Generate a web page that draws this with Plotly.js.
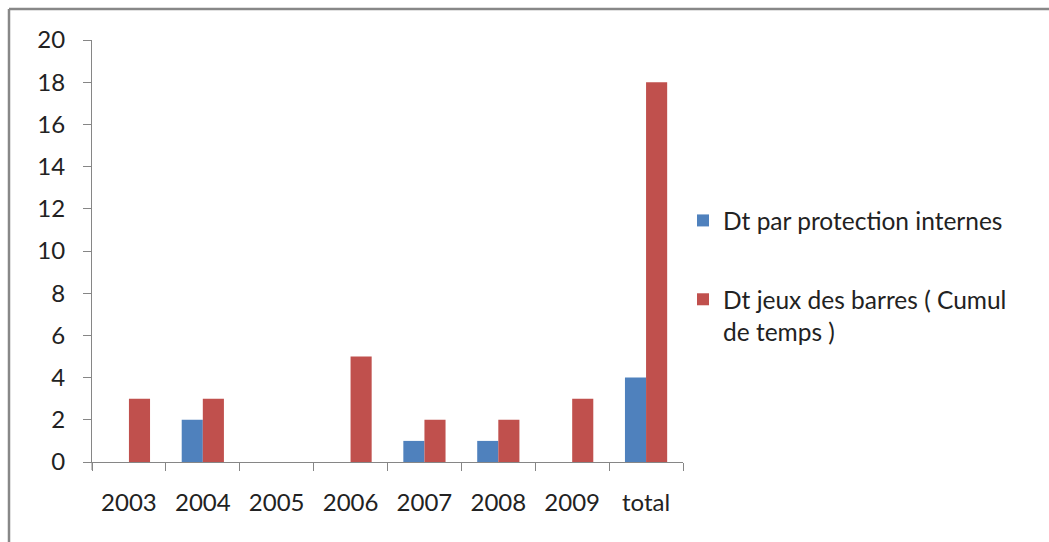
<!DOCTYPE html>
<html>
<head>
<meta charset="utf-8">
<script src="https://cdn.plot.ly/plotly-3.0.1.min.js"></script>
<style>
html,body{margin:0;padding:0;background:#fff;}
#chart{width:1049px;height:542px;}
</style>
</head>
<body>
<div id="chart"></div>
<script>
const categories = ["2003","2004","2005","2006","2007","2008","2009","total"];
const seriesNames = ["Dt par protection internes","Dt jeux des barres ( Cumul<br>de temps )"];
const protectionInternes = [0,2,0,0,1,1,0,4];
const jeuxDesBarres = [3,3,0,5,2,2,3,18];
const yTicks = [0,2,4,6,8,10,12,14,16,18,20];

const W = 1049, H = 542;
const M = {l:92, r:366, t:40, b:80, autoexpand:false};
const pw = W - M.l - M.r, ph = H - M.t - M.b;
const px = x => (x - M.l) / pw;
const py = y => (H - M.b - y) / ph;

const font = {family:"Lato, 'Open Sans', sans-serif", size:24, color:"#222"};
const legFont = {family:"Lato, 'Open Sans', sans-serif", size:24.5, color:"#222"};

const traces = [
  {type:"bar", x:categories, y:protectionInternes, name:seriesNames[0], legendgroup:"a",
   marker:{color:"#4F81BD", line:{width:0}}},
  {type:"bar", x:categories, y:jeuxDesBarres, name:seriesNames[1], legendgroup:"b",
   marker:{color:"#C0504D", line:{width:0}}}
];

const layout = {
  width:W, height:H,
  margin:M,
  paper_bgcolor:"#fff", plot_bgcolor:"#fff",
  font:font,
  barmode:"group", bargap:0.4286, bargroupgap:0,
  showlegend:true,
  legend:{xref:"container", yref:"container", x:683/W, y:1-198/H, xanchor:"left", yanchor:"top",
          font:legFont, traceorder:"grouped", tracegroupgap:44, valign:"top", bgcolor:"rgba(0,0,0,0)",
          itemwidth:30},
  xaxis:{type:"category", showgrid:false, showline:true, linecolor:"#868686", linewidth:1,
         ticks:"outside", tickson:"boundaries", ticklen:8, tickcolor:"#868686",
         ticklabelstandoff:19, tickfont:font, zeroline:false, fixedrange:true},
  yaxis:{range:[0,20], tickvals:yTicks, ticktext:yTicks.map(String), showgrid:false, showline:true,
         linecolor:"#868686", linewidth:1, ticks:"outside", ticklen:8, tickcolor:"#868686",
         ticklabelstandoff:13, tickfont:font, zeroline:false, fixedrange:true},
  shapes:[
    {type:"line", xref:"paper", yref:"paper", x0:px(9), x1:px(W+5), y0:py(9), y1:py(9),
     line:{color:"#888", width:2.5}},
    {type:"line", xref:"paper", yref:"paper", x0:px(9), x1:px(9), y0:py(9), y1:py(H+5),
     line:{color:"#888", width:2.5}},
    {type:"line", xref:"paper", yref:"paper", x0:0, x1:0, y0:0, y1:py(H-M.b+8),
     line:{color:"#868686", width:1}}
  ]
};

Plotly.newPlot("chart", traces, layout, {displayModeBar:false, staticPlot:true});
</script>
</body>
</html>
